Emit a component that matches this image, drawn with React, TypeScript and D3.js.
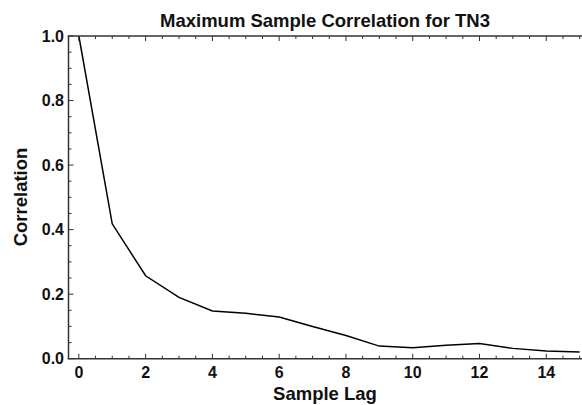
import React from "react";
import * as d3 from "d3";

const lags = [0, 1, 2, 3, 4, 5, 6, 7, 8, 9, 10, 11, 12, 13, 14, 15];
const correlation = [1.0, 0.418, 0.257, 0.19, 0.148, 0.141, 0.129, 0.1, 0.072, 0.039, 0.034, 0.042, 0.047, 0.032, 0.024, 0.021];
const xMajorTicks = [0, 2, 4, 6, 8, 10, 12, 14];
const yMajorTicks = [0, 0.2, 0.4, 0.6, 0.8, 1.0];

const W = 582;
const H = 405;
const left = 68.5;
const top = 36;
const bottom = 358.7;

export default function App() {
  const x = d3.scaleLinear().domain([-0.31, 15.07]).range([left, 582]);
  const y = d3.scaleLinear().domain([0, 1]).range([bottom, top]);
  const line = d3
    .line<number>()
    .x((_, i) => x(lags[i]))
    .y((d) => y(d));

  const xMinor = d3.range(0, 15.01, 0.5).filter((v) => !xMajorTicks.includes(v));
  const yMinor = d3.range(0, 1.001, 0.05).map((v) => +v.toFixed(2)).filter((v) => !yMajorTicks.some((t) => Math.abs(t - v) < 1e-6));

  const font = "'Liberation Sans', Arial, sans-serif";
  const axisColor = "#333";

  return (
    <div style={{ position: "absolute", left: 0, top: 0 }}>
      <svg width={W} height={H} style={{ display: "block", background: "#fff" }}>
        <defs>
          <clipPath id="plot">
            <rect x={left} y={top - 2} width={W - left} height={bottom - top + 2} />
          </clipPath>
        </defs>
        {/* title */}
        <text x={325} y={27} textAnchor="middle" fontFamily={font} fontWeight="bold" fontSize={18.5} fill="#111">
          Maximum Sample Correlation for TN3
        </text>
        {/* data line */}
        <path d={line(correlation) || ""} fill="none" stroke="#000" strokeWidth={1.5} clipPath="url(#plot)" />
        {/* axes frame */}
        <line x1={left} x2={left} y1={top} y2={bottom} stroke={axisColor} strokeWidth={1.5} />
        <line x1={left - 0.75} x2={W} y1={bottom} y2={bottom} stroke={axisColor} strokeWidth={1.5} />
        <line x1={left - 0.75} x2={W} y1={top} y2={top} stroke={axisColor} strokeWidth={1.5} />
        {/* x ticks */}
        {xMajorTicks.map((t) => (
          <g key={"xm" + t}>
            <line x1={x(t)} x2={x(t)} y1={bottom} y2={bottom - 5} stroke={axisColor} strokeWidth={1} />
            <line x1={x(t)} x2={x(t)} y1={top} y2={top + 5} stroke={axisColor} strokeWidth={1} />
            <text x={x(t)} y={377.5} textAnchor="middle" fontFamily={font} fontWeight="bold" fontSize={16} fill="#111">
              {t}
            </text>
          </g>
        ))}
        {xMinor.map((t) => (
          <g key={"xn" + t}>
            <line x1={x(t)} x2={x(t)} y1={bottom} y2={bottom - 3} stroke={axisColor} strokeWidth={1} />
            <line x1={x(t)} x2={x(t)} y1={top} y2={top + 3} stroke={axisColor} strokeWidth={1} />
          </g>
        ))}
        {/* y ticks */}
        {yMajorTicks.map((t) => (
          <g key={"ym" + t}>
            <line x1={left} x2={left + 5} y1={y(t)} y2={y(t)} stroke={axisColor} strokeWidth={1} />
            <text x={64} y={y(t)} dy="0.36em" textAnchor="end" fontFamily={font} fontWeight="bold" fontSize={16} fill="#111">
              {t.toFixed(1)}
            </text>
          </g>
        ))}
        {yMinor.map((t) => (
          <line key={"yn" + t} x1={left} x2={left + 3} y1={y(t)} y2={y(t)} stroke={axisColor} strokeWidth={1} />
        ))}
        {/* axis titles */}
        <text x={325} y={400} textAnchor="middle" fontFamily={font} fontWeight="bold" fontSize={18.5} fill="#111">
          Sample Lag
        </text>
        <text
          transform={`translate(27,197) rotate(-90)`}
          textAnchor="middle"
          fontFamily={font}
          fontWeight="bold"
          fontSize={18.5}
          fill="#111"
        >
          Correlation
        </text>
      </svg>
    </div>
  );
}
